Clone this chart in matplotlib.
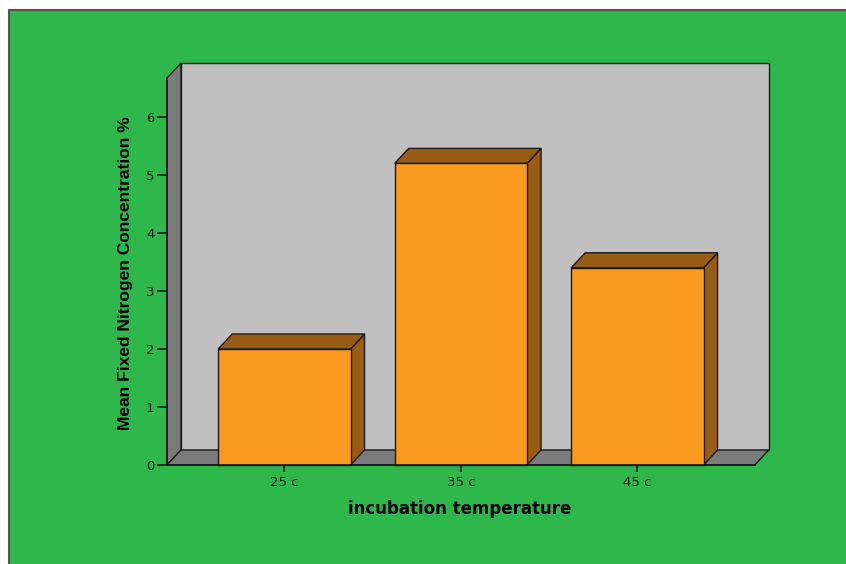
import matplotlib as mpl
mpl.use('Agg')
import matplotlib.pyplot as plt
from matplotlib.patches import Polygon, Rectangle

categories = ['25 c', '35 c', '45 c']
values = [2.0, 5.2, 3.4]
yticks = [0, 1, 2, 3, 4, 5, 6]

W, H = 846, 564
PXX = 176.5   # pixels per category
PXY = 58.0    # pixels per unit
DX = 14 / PXX
DY = 15 / PXY
X0, X1 = -0.665, 2.665
YTOP = 6.93

green = '#2eb84b'
orange = '#f99a1f'
brown = '#985c14'
wall = '#c0c0c0'
dark = '#7b7b7b'

fig = plt.figure(figsize=(W / 100, H / 100), dpi=100)
fig.patch.set_facecolor('white')
fig.patches.append(Rectangle((9 / W, -0.1), 1.1, 1 - 10 / H + 0.1, transform=fig.transFigure,
                             facecolor=green, edgecolor='#555555', linewidth=1.5, zorder=-10))

left, bottom = 167, 465
axw, axh = 610, 410
ax = fig.add_axes([left / W, (H - bottom) / H, axw / W, axh / H])
ax.set_facecolor('none')
ax.set_xlim(X0, X0 + axw / PXX)
ax.set_ylim(0, axh / PXY)

kw = dict(edgecolor='#1a1a1a', linewidth=1.0, joinstyle='miter', clip_on=False)
# back wall, side wall, floor
ax.add_patch(Rectangle((X0 + DX, DY), X1 - X0, YTOP - DY, facecolor=wall, **kw))
ax.add_patch(Polygon([(X0, 0), (X0 + DX, DY), (X0 + DX, YTOP), (X0, YTOP - DY)], facecolor=dark, **kw))
ax.add_patch(Polygon([(X0, 0), (X1, 0), (X1 + DX, DY), (X0 + DX, DY)], facecolor=dark, **kw))

bw = 0.75
for i, v in enumerate(values):
    l, r = i - bw / 2, i + bw / 2
    ax.add_patch(Polygon([(r, 0), (r + DX, DY), (r + DX, v + DY), (r, v)], facecolor=brown, **kw))
    ax.add_patch(Polygon([(l, v), (r, v), (r + DX, v + DY), (l + DX, v + DY)], facecolor=brown, **kw))
    ax.add_patch(Rectangle((l, 0), bw, v, facecolor=orange, **kw))

for s in ['top', 'right']:
    ax.spines[s].set_visible(False)
ax.spines['left'].set_bounds(0, YTOP - DY)
ax.spines['bottom'].set_bounds(X0, X1)
for s in ['left', 'bottom']:
    ax.spines[s].set_linewidth(1.2)
    ax.spines[s].set_color('#1a1a1a')
    ax.spines[s].set_zorder(5)

ax.set_yticks(yticks)
ax.set_xticks(range(len(categories)))
ax.set_xticklabels(categories)
ax.tick_params(axis='y', length=7, width=1.2, pad=2, labelsize=9.5, colors='#1a1a1a')
ax.tick_params(axis='x', length=5, width=1.2, pad=3, labelsize=9.5, colors='#1a1a1a')
ax.set_ylabel('Mean Fixed Nitrogen Concentration %', family='Liberation Sans',
              fontweight='bold', fontsize=12.5)
ax.set_xlabel('incubation temperature', family='DejaVu Sans', fontweight='bold',
              fontsize=12)
ax.yaxis.set_label_coords((133 - left) / axw, (bottom - 273) / axh)
ax.xaxis.set_label_coords((460 - left) / axw, (bottom - 500) / axh)

fig.savefig('out.png', dpi=100)
